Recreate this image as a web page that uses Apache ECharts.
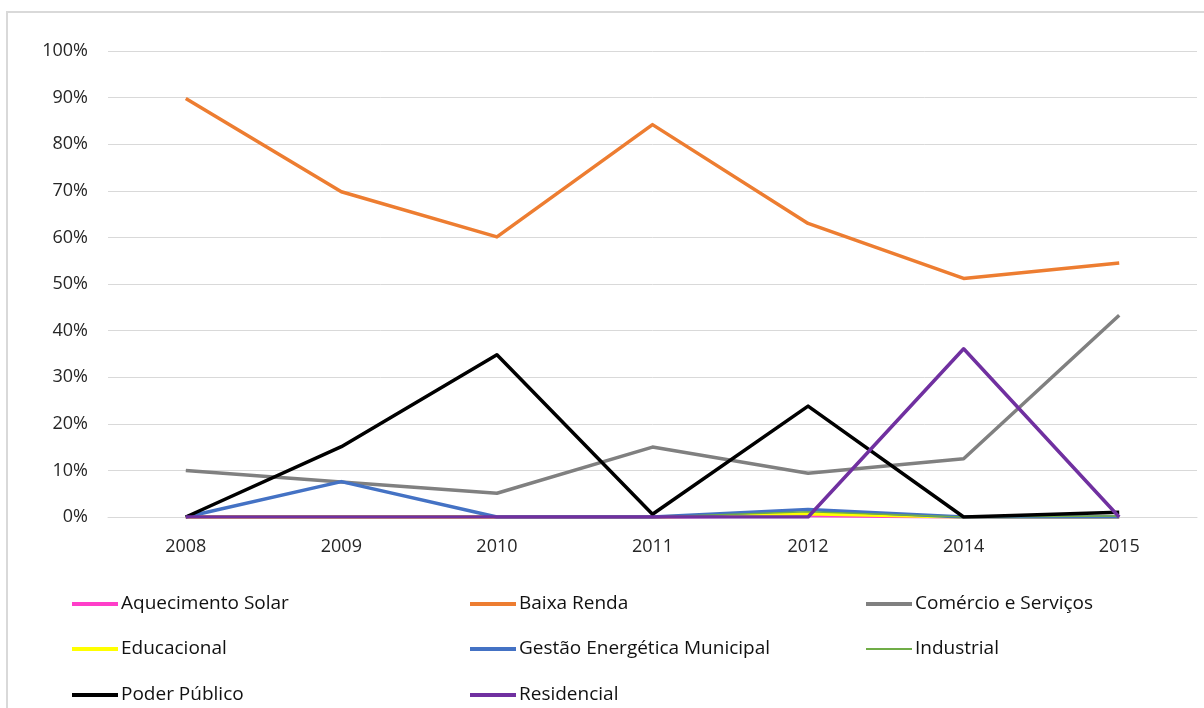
<!DOCTYPE html>
<html>
<head>
<meta charset="utf-8">
<script src="https://cdn.jsdelivr.net/npm/echarts@6/dist/echarts.min.js"></script>
<style>
  html, body { margin: 0; padding: 0; background: #fff; }
  #chart { width: 1204px; height: 708px; }
</style>
</head>
<body>
<div id="chart"></div>
<script>
// Years on the category axis
const years = ['2008', '2009', '2010', '2011', '2012', '2014', '2015'];

// Share of each segment per year (fraction of total)
const aquecimentoSolar   = [0, 0, 0, 0, 0.003, 0, 0];
const baixaRenda         = [0.898, 0.698, 0.601, 0.842, 0.630, 0.512, 0.545];
const comercioServicos   = [0.100, 0.075, 0.051, 0.150, 0.094, 0.125, 0.433];
const educacional        = [0, 0, 0, 0, 0.007, 0, 0];
const gestaoEnergetica   = [0, 0.076, 0, 0, 0.016, 0, 0];
const industrial         = [0, 0, 0, 0, 0.011, 0, 0.002];
const poderPublico       = [0, 0.151, 0.348, 0.006, 0.238, 0, 0.010];
const residencial        = [0, 0, 0, 0, 0, 0.361, 0];

const seriesNames = ['Aquecimento Solar', 'Baixa Renda', 'Comércio e Serviços', 'Educacional',
                     'Gestão Energética Municipal', 'Industrial', 'Poder Público', 'Residencial'];
const seriesData = [aquecimentoSolar, baixaRenda, comercioServicos, educacional,
                    gestaoEnergetica, industrial, poderPublico, residencial];
const colors = ['#FF3EC9', '#ED7D31', '#808080', '#FFFF00', '#4472C4', '#70AD47', '#000000', '#7030A0'];
const widths = [3.5, 3.5, 3.5, 3.5, 3.5, 1.5, 3.5, 3.5];

// Legend layout: three columns, three rows
const legendCols = [72, 470, 866];
const legendRows = [603, 648, 694];

const chart = echarts.init(document.getElementById('chart'), null, { renderer: 'canvas' });

const legends = seriesNames.map((name, i) => ({
  data: [{ name: name, icon: 'rect' }],
  left: legendCols[i % 3],
  top: legendRows[Math.floor(i / 3)] - 11,
  itemWidth: 46,
  itemHeight: widths[i] >= 3 ? 4 : 2,
  itemGap: 0,
  padding: 0,
  selectedMode: false,
  textStyle: {
    fontFamily: 'Open Sans',
    fontSize: 19,
    color: '#111111',
    lineHeight: 24,
    padding: [0, 0, 0, -2]
  }
}));

chart.setOption({
  animation: false,
  backgroundColor: '#ffffff',
  textStyle: { fontFamily: 'Open Sans' },
  graphic: [{
    type: 'rect',
    shape: { x: 7, y: 12, width: 1400, height: 900 },
    style: { fill: 'none', stroke: '#d9d9d9', lineWidth: 2 },
    silent: true,
    z: -1
  }],
  grid: { left: 108, right: 7, top: 51, bottom: 191 },
  legend: legends,
  xAxis: {
    type: 'category',
    data: years,
    boundaryGap: true,
    axisLine: { show: true, lineStyle: { color: '#d9d9d9', width: 1 } },
    axisTick: { show: false },
    axisLabel: { fontFamily: 'Open Sans', fontSize: 18, color: '#262626', margin: 21 }
  },
  yAxis: {
    type: 'value',
    min: 0,
    max: 1,
    interval: 0.1,
    axisLine: { show: false },
    axisTick: { show: false },
    splitLine: { lineStyle: { color: '#d9d9d9', width: 1 } },
    axisLabel: {
      fontFamily: 'Open Sans',
      fontSize: 18,
      color: '#262626',
      margin: 20,
      formatter: v => Math.round(v * 100) + '%'
    }
  },
  series: seriesNames.map((name, i) => ({
    name: name,
    type: 'line',
    data: seriesData[i],
    symbol: 'none',
    showSymbol: false,
    color: colors[i],
    lineStyle: { color: colors[i], width: widths[i], join: 'round' },
    z: 2 + i
  }))
});
</script>
</body>
</html>
